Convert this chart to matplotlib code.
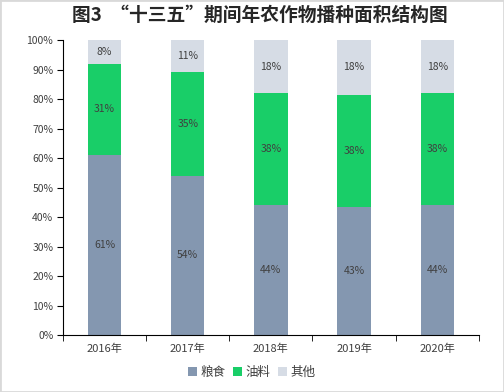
import matplotlib.pyplot as plt
import numpy as np
from matplotlib.patches import Rectangle

plt.rcParams['font.family'] = ['Noto Sans CJK SC', 'DejaVu Sans']

years = ['2016年', '2017年', '2018年', '2019年', '2020年']
grain = [61, 54, 44, 43.5, 44]
oil = [31, 35, 38, 38, 38]
other = [8, 11, 18, 18.5, 18]
grain_lbl = ['61%', '54%', '44%', '43%', '44%']
oil_lbl = ['31%', '35%', '38%', '38%', '38%']
other_lbl = ['8%', '11%', '18%', '18%', '18%']

c_grain = '#8497B0'
c_oil = '#19CE68'
c_other = '#D6DCE5'
txt = '#404040'

fig = plt.figure(figsize=(5.04, 3.92), dpi=100)
fig.patches.append(Rectangle((0, 0), 1, 1, transform=fig.transFigure,
                             fill=False, edgecolor='#D9D9D9', lw=2))
ax = fig.add_axes([0.125, 0.145, 0.825, 0.753])

x = np.arange(len(years))
w = 0.4
b1 = ax.bar(x, grain, w, color=c_grain, label='粮食')
b2 = ax.bar(x, oil, w, bottom=grain, color=c_oil, label='油料')
b3 = ax.bar(x, other, w, bottom=np.add(grain, oil), color=c_other, label='其他')
ax.bar_label(b1, labels=grain_lbl, label_type='center', fontsize=7.5, color=txt)
ax.bar_label(b2, labels=oil_lbl, label_type='center', fontsize=7.5, color=txt)
ax.bar_label(b3, labels=other_lbl, label_type='center', fontsize=7.5, color=txt)

ax.set_xlim(-0.5, 4.5)
ax.set_ylim(0, 100)
ax.set_yticks(range(0, 101, 10))
ax.set_yticklabels([f'{v}%' for v in range(0, 101, 10)], fontsize=7.5, color=txt)
ax.set_xticks(x)
ax.set_xticklabels(years, fontsize=8, color=txt)
ax.set_xticks(np.arange(-0.5, 5, 1), minor=True)
ax.tick_params(axis='x', which='major', length=0, pad=6)
ax.tick_params(axis='x', which='minor', length=4, direction='out', color='black')
ax.tick_params(axis='y', length=4, direction='out', pad=3)
for s in ['top', 'right']:
    ax.spines[s].set_visible(False)
ax.spines['left'].set_color('black')
ax.spines['bottom'].set_color('black')

fig.text(0.516, 0.96, '图3  “十三五”期间年农作物播种面积结构图',
         ha='center', va='center', fontsize=13.5, fontweight='bold', color='#262626')
fig.legend(handles=[b1, b2, b3], loc='center', bbox_to_anchor=(0.5, 0.05),
           ncol=3, frameon=False, fontsize=9, handlelength=0.7, handleheight=0.7,
           handletextpad=0.3, columnspacing=0.6, labelcolor=txt)

fig.savefig('out.png', dpi=100)
